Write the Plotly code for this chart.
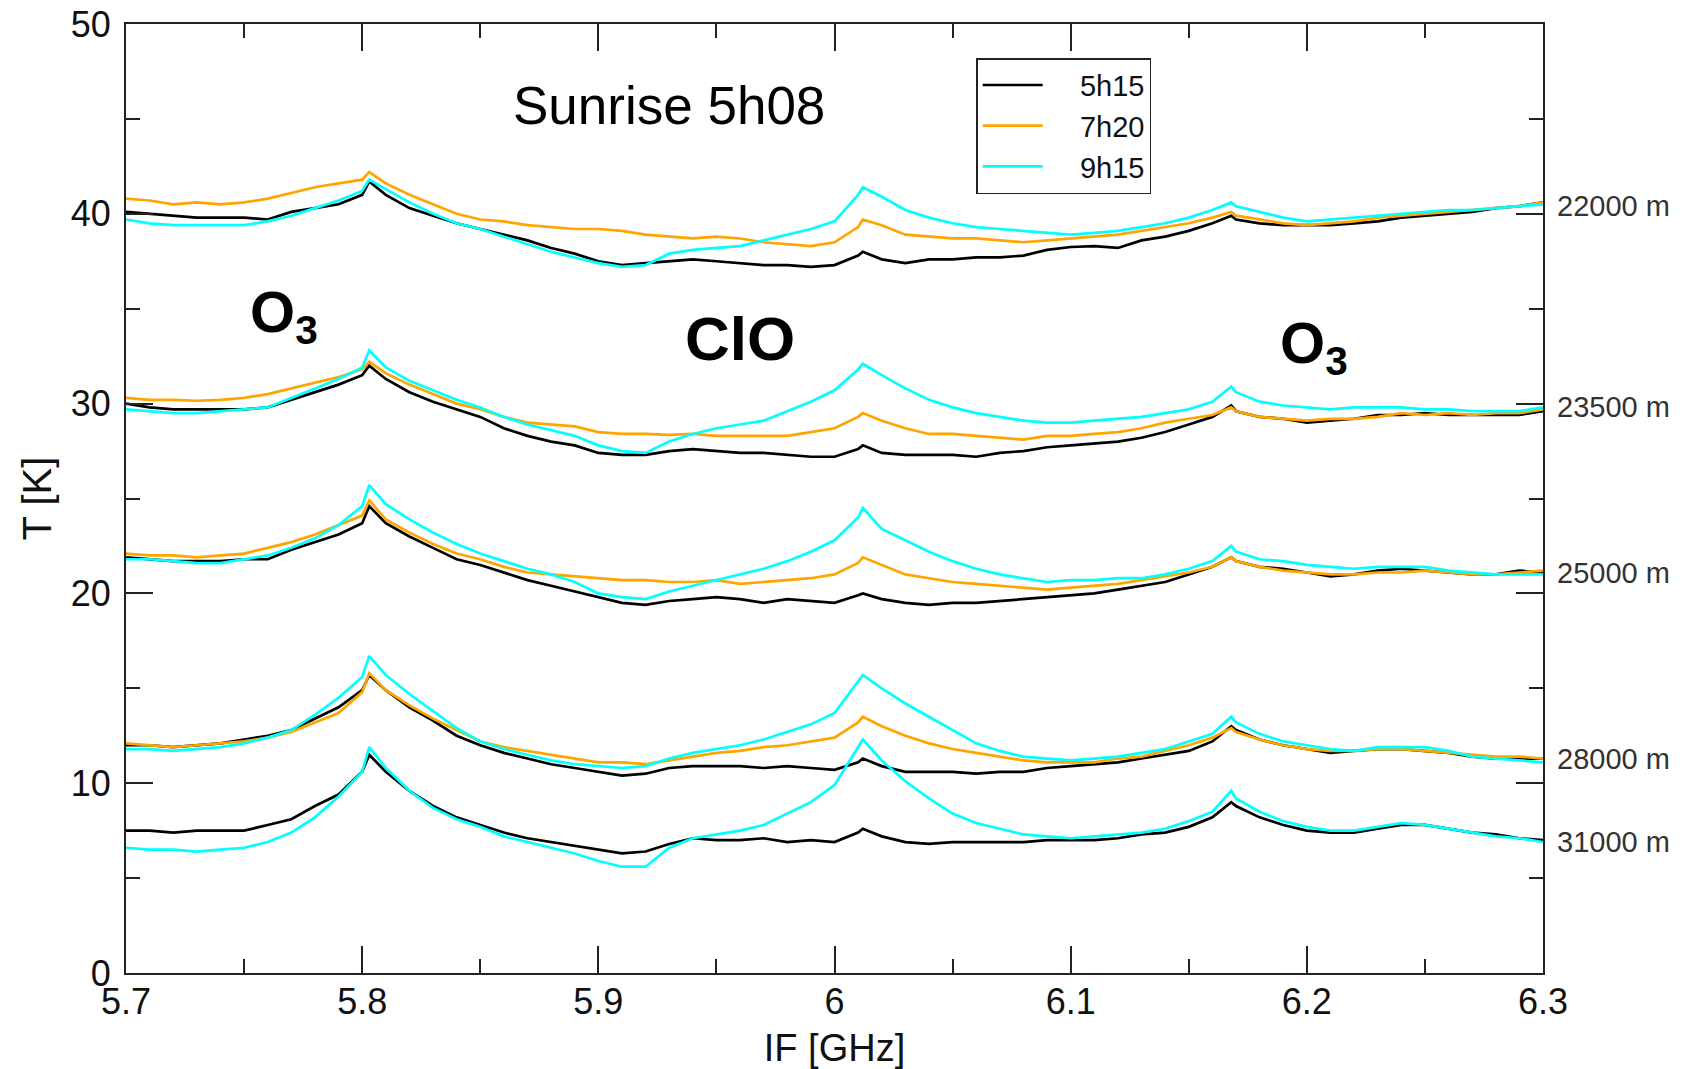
import plotly.graph_objects as go

# ---------------- data ----------------
freq_ghz = [5.70, 5.71, 5.72, 5.73, 5.74, 5.75, 5.76, 5.77, 5.78, 5.79, 5.80, 5.803,
            5.81, 5.82, 5.83, 5.84, 5.85, 5.86, 5.87, 5.88, 5.89, 5.90,
            5.91, 5.92, 5.93, 5.94, 5.95, 5.96, 5.97, 5.98, 5.99, 6.00,
            6.01, 6.012,
            6.02, 6.03, 6.04, 6.05, 6.06, 6.07, 6.08, 6.09, 6.10,
            6.11, 6.12, 6.13, 6.14, 6.15, 6.16,
            6.168,
            6.17, 6.18, 6.19, 6.20, 6.21, 6.22, 6.23, 6.24, 6.25, 6.26, 6.27, 6.28, 6.29, 6.30]

# 22000 m
t22000_5h15 = [40.1, 40.0, 39.9, 39.8, 39.8, 39.8, 39.7, 40.1, 40.3, 40.5, 41.0, 41.7,
               41.0, 40.3, 39.9, 39.5, 39.2, 38.9, 38.6, 38.2, 37.9, 37.5,
               37.3, 37.4, 37.5, 37.6, 37.5, 37.4, 37.3, 37.3, 37.2, 37.3,
               37.8, 38.0,
               37.6, 37.4, 37.6, 37.6, 37.7, 37.7, 37.8, 38.1, 38.25,
               38.3, 38.2, 38.6, 38.8, 39.1, 39.5,
               39.9,
               39.7, 39.5, 39.4, 39.4, 39.4, 39.5, 39.6, 39.8, 39.9, 40.0, 40.1, 40.3, 40.4, 40.6]
t22000_7h20 = [40.8, 40.7, 40.5, 40.6, 40.5, 40.6, 40.8, 41.1, 41.4, 41.6, 41.8, 42.2,
               41.6, 41.0, 40.5, 40.0, 39.7, 39.6, 39.4, 39.3, 39.2, 39.2,
               39.1, 38.9, 38.8, 38.7, 38.8, 38.7, 38.5, 38.4, 38.3, 38.5,
               39.3, 39.7,
               39.4, 38.9, 38.8, 38.7, 38.7, 38.6, 38.5, 38.6, 38.7,
               38.8, 38.9, 39.1, 39.3, 39.5, 39.8,
               40.1,
               39.9, 39.7, 39.5, 39.4, 39.5, 39.6, 39.8, 39.9, 40.0, 40.1, 40.2, 40.3, 40.4, 40.6]
t22000_9h15 = [39.7, 39.5, 39.4, 39.4, 39.4, 39.4, 39.6, 39.9, 40.3, 40.7, 41.2, 41.8,
               41.3, 40.6, 40.0, 39.5, 39.2, 38.8, 38.4, 38.0, 37.7, 37.4,
               37.2, 37.3, 37.9, 38.1, 38.2, 38.3, 38.6, 38.9, 39.2, 39.6,
               41.0, 41.4,
               40.9, 40.2, 39.8, 39.5, 39.3, 39.2, 39.1, 39.0, 38.9,
               39.0, 39.1, 39.3, 39.5, 39.8, 40.2,
               40.6,
               40.4, 40.1, 39.8, 39.6, 39.7, 39.8, 39.9, 40.0, 40.1, 40.2, 40.2, 40.3, 40.4, 40.5]

# 23500 m
t23500_5h15 = [30.0, 29.8, 29.7, 29.7, 29.7, 29.7, 29.8, 30.2, 30.6, 31.0, 31.5, 32.0,
               31.3, 30.6, 30.1, 29.7, 29.3, 28.7, 28.3, 28.0, 27.8, 27.4,
               27.3, 27.3, 27.5, 27.6, 27.5, 27.4, 27.4, 27.3, 27.2, 27.2,
               27.6, 27.8,
               27.4, 27.3, 27.3, 27.3, 27.2, 27.4, 27.5, 27.7, 27.8,
               27.9, 28.0, 28.2, 28.5, 28.9, 29.3,
               29.9,
               29.6, 29.3, 29.2, 29.0, 29.1, 29.2, 29.4, 29.4, 29.5, 29.4, 29.4, 29.4, 29.4, 29.6]
t23500_7h20 = [30.3, 30.2, 30.2, 30.15, 30.2, 30.3, 30.5, 30.8, 31.1, 31.4, 31.8, 32.2,
               31.6, 31.0, 30.5, 30.0, 29.7, 29.3, 29.0, 28.9, 28.8, 28.5,
               28.4, 28.4, 28.35, 28.4, 28.3, 28.3, 28.3, 28.3, 28.5, 28.7,
               29.3, 29.5,
               29.1, 28.7, 28.4, 28.4, 28.3, 28.2, 28.1, 28.3, 28.3,
               28.4, 28.5, 28.7, 29.0, 29.2, 29.4,
               29.8,
               29.6, 29.3, 29.2, 29.1, 29.2, 29.2, 29.3, 29.5, 29.4, 29.5, 29.4, 29.5, 29.5, 29.7]
t23500_9h15 = [29.7, 29.6, 29.5, 29.5, 29.6, 29.7, 29.8, 30.3, 30.8, 31.3, 31.9, 32.8,
               31.9, 31.2, 30.7, 30.2, 29.8, 29.3, 28.9, 28.6, 28.3, 27.8,
               27.5, 27.4, 28.0, 28.4, 28.7, 28.9, 29.1, 29.6, 30.1, 30.7,
               31.8, 32.1,
               31.5, 30.8, 30.2, 29.8, 29.5, 29.3, 29.1, 29.0, 29.0,
               29.1, 29.2, 29.3, 29.5, 29.7, 30.1,
               30.9,
               30.6, 30.1, 29.9, 29.8, 29.7, 29.8, 29.8, 29.8, 29.7, 29.7, 29.6, 29.6, 29.6, 29.8]

# 25000 m
t25000_5h15 = [21.9, 21.8, 21.7, 21.7, 21.7, 21.8, 21.8, 22.3, 22.7, 23.1, 23.7, 24.6,
               23.7, 23.0, 22.4, 21.8, 21.5, 21.1, 20.7, 20.4, 20.1, 19.8,
               19.5, 19.4, 19.6, 19.7, 19.8, 19.7, 19.5, 19.7, 19.6, 19.5,
               19.9, 20.0,
               19.7, 19.5, 19.4, 19.5, 19.5, 19.6, 19.7, 19.8, 19.9,
               20.0, 20.2, 20.4, 20.6, 21.0, 21.4,
               21.9,
               21.7, 21.4, 21.3, 21.1, 20.9, 21.0, 21.2, 21.3, 21.2, 21.1, 21.0, 21.0, 21.2, 21.1]
t25000_7h20 = [22.1, 22.0, 22.0, 21.9, 22.0, 22.1, 22.4, 22.7, 23.1, 23.6, 24.1, 24.9,
               23.9, 23.2, 22.6, 22.1, 21.8, 21.4, 21.1, 21.0, 20.9, 20.8,
               20.7, 20.7, 20.6, 20.6, 20.7, 20.5, 20.6, 20.7, 20.8, 21.0,
               21.6, 21.9,
               21.5, 21.0, 20.8, 20.6, 20.5, 20.4, 20.3, 20.2, 20.3,
               20.4, 20.5, 20.7, 20.9, 21.1, 21.4,
               21.9,
               21.7, 21.4, 21.2, 21.1, 21.0, 21.0, 21.1, 21.1, 21.2, 21.1, 21.0, 21.0, 21.1, 21.2]
t25000_9h15 = [21.8, 21.8, 21.7, 21.6, 21.6, 21.8, 22.0, 22.4, 22.9, 23.6, 24.6, 25.7,
               24.7, 23.9, 23.2, 22.6, 22.1, 21.7, 21.3, 21.0, 20.6, 20.0,
               19.8, 19.7, 20.1, 20.4, 20.7, 21.0, 21.3, 21.7, 22.2, 22.8,
               24.0, 24.5,
               23.4, 22.8, 22.2, 21.7, 21.3, 21.0, 20.8, 20.6, 20.7,
               20.7, 20.8, 20.8, 21.0, 21.3, 21.7,
               22.5,
               22.2, 21.8, 21.7, 21.5, 21.4, 21.3, 21.4, 21.4, 21.4, 21.2, 21.1, 21.0, 21.0, 21.0]

# 28000 m
t28000_5h15 = [12.0, 12.0, 11.9, 12.0, 12.1, 12.3, 12.5, 12.8, 13.4, 14.0, 14.9, 15.7,
               14.9, 14.0, 13.3, 12.5, 12.0, 11.6, 11.3, 11.0, 10.8, 10.6,
               10.4, 10.5, 10.8, 10.9, 10.9, 10.9, 10.8, 10.9, 10.8, 10.7,
               11.1, 11.3,
               10.9, 10.6, 10.6, 10.6, 10.5, 10.6, 10.6, 10.8, 10.9,
               11.0, 11.1, 11.3, 11.5, 11.7, 12.2,
               13.0,
               12.8, 12.3, 12.0, 11.8, 11.6, 11.7, 11.8, 11.8, 11.7, 11.6, 11.4, 11.3, 11.3, 11.3]
t28000_7h20 = [12.1, 12.0, 11.9, 12.0, 12.1, 12.2, 12.4, 12.7, 13.2, 13.7, 14.8, 15.8,
               14.9, 14.1, 13.4, 12.8, 12.2, 11.9, 11.7, 11.5, 11.3, 11.1,
               11.1, 11.0, 11.2, 11.4, 11.6, 11.7, 11.9, 12.0, 12.2, 12.4,
               13.2, 13.5,
               13.0, 12.5, 12.1, 11.8, 11.6, 11.4, 11.2, 11.1, 11.1,
               11.1, 11.3, 11.4, 11.7, 12.0, 12.4,
               12.9,
               12.7, 12.3, 12.0, 11.8, 11.7, 11.7, 11.8, 11.8, 11.7, 11.6, 11.5, 11.4, 11.4, 11.3]
t28000_9h15 = [11.8, 11.8, 11.7, 11.8, 11.9, 12.1, 12.4, 12.8, 13.6, 14.5, 15.6, 16.7,
               15.7, 14.7, 13.8, 12.9, 12.2, 11.8, 11.5, 11.2, 11.0, 10.9,
               10.8, 10.9, 11.3, 11.6, 11.8, 12.0, 12.3, 12.7, 13.1, 13.7,
               15.4, 15.7,
               15.0, 14.2, 13.5, 12.8, 12.1, 11.7, 11.4, 11.3, 11.2,
               11.3, 11.4, 11.6, 11.8, 12.2, 12.6,
               13.5,
               13.2, 12.6, 12.2, 12.0, 11.8, 11.7, 11.9, 11.9, 11.9, 11.7, 11.4, 11.3, 11.2, 11.1]

# 31000 m (no 7h20 curve)
t31000_5h15 = [7.5, 7.5, 7.4, 7.5, 7.5, 7.5, 7.8, 8.1, 8.8, 9.4, 10.6, 11.5,
               10.6, 9.6, 8.8, 8.2, 7.8, 7.4, 7.1, 6.9, 6.7, 6.5,
               6.3, 6.4, 6.8, 7.1, 7.0, 7.0, 7.1, 6.9, 7.0, 6.9,
               7.4, 7.6,
               7.2, 6.9, 6.8, 6.9, 6.9, 6.9, 6.9, 7.0, 7.0,
               7.0, 7.1, 7.3, 7.4, 7.7, 8.2,
               9.0,
               8.8, 8.2, 7.8, 7.5, 7.4, 7.4, 7.6, 7.8, 7.8, 7.6, 7.4, 7.3, 7.1, 7.0]
t31000_9h15 = [6.6, 6.5, 6.5, 6.4, 6.5, 6.6, 6.9, 7.4, 8.2, 9.3, 10.6, 11.9,
               10.8, 9.6, 8.7, 8.1, 7.7, 7.2, 6.9, 6.6, 6.3, 5.9,
               5.6, 5.6, 6.6, 7.1, 7.3, 7.5, 7.8, 8.4, 9.0, 9.9,
               11.9, 12.3,
               11.2, 10.1, 9.2, 8.4, 7.9, 7.6, 7.3, 7.2, 7.1,
               7.2, 7.3, 7.4, 7.6, 8.0, 8.5,
               9.6,
               9.2, 8.5, 8.0, 7.7, 7.5, 7.5, 7.7, 7.9, 7.8, 7.6, 7.4, 7.2, 7.1, 6.9]

time_labels = ["5h15", "7h20", "9h15"]
altitude_labels = ["22000 m", "23500 m", "25000 m", "28000 m", "31000 m"]
altitude_label_y = [40.4, 29.8, 21.1, 11.3, 6.9]

x_tick_vals = [5.7, 5.8, 5.9, 6.0, 6.1, 6.2, 6.3]
x_tick_text = ["5.7", "5.8", "5.9", "6", "6.1", "6.2", "6.3"]
y_tick_vals = [0, 10, 20, 30, 40, 50]

species_labels = ["O<sub>3</sub>", "ClO", "O<sub>3</sub>"]
species_x = [5.767, 5.960, 6.203]
species_y = [34.6, 33.45, 33.0]
species_size = [58, 62, 58]

# ---------------- figure ----------------
colors = {"5h15": "#000000", "7h20": "#FFA500", "9h15": "#00FFFF"}
FONT = "Liberation Sans, Arial, Helvetica, sans-serif"
NBSP = "\u00a0"

series = [
    ("5h15", t22000_5h15), ("7h20", t22000_7h20), ("9h15", t22000_9h15),
    ("5h15", t23500_5h15), ("7h20", t23500_7h20), ("9h15", t23500_9h15),
    ("5h15", t25000_5h15), ("7h20", t25000_7h20), ("9h15", t25000_9h15),
    ("5h15", t28000_5h15), ("7h20", t28000_7h20), ("9h15", t28000_9h15),
    ("5h15", t31000_5h15), ("9h15", t31000_9h15),
]

fig = go.Figure()
shown = set()
for name, vals in series:
    fig.add_trace(go.Scatter(
        x=freq_ghz, y=vals, mode="lines", name=NBSP * 4 + name, legendgroup=name,
        showlegend=name not in shown,
        line=dict(color=colors[name], width=2.7),
    ))
    shown.add(name)

annotations = []
for lab, yv in zip(altitude_labels, altitude_label_y):
    annotations.append(dict(xref="paper", x=1.0, xanchor="left", xshift=12,
                            yref="y", y=yv, yanchor="middle", text=lab, showarrow=False,
                            font=dict(family=FONT, size=29, color="#333333")))
for lab, xv, yv, sz in zip(species_labels, species_x, species_y, species_size):
    annotations.append(dict(x=xv, y=yv, xref="x", yref="y", text="<b>" + lab + "</b>",
                            showarrow=False, font=dict(family=FONT, size=sz, color="#000000")))
annotations.append(dict(x=5.930, y=45.7, xref="x", yref="y", text="Sunrise 5h08",
                        showarrow=False, font=dict(family=FONT, size=53, color="#000000")))

axis_common = dict(
    showline=True, linecolor="#222222", linewidth=2, mirror="ticks",
    ticks="inside", tickcolor="#222222", tickwidth=1.5, ticklen=27,
    showgrid=False, zeroline=False, automargin=False,
    tickfont=dict(family=FONT, size=36, color="#111111"),
)

fig.update_layout(
    width=1686, height=1069,
    margin=dict(l=126, r=143, t=24, b=96),
    paper_bgcolor="white", plot_bgcolor="white",
    font=dict(family=FONT, color="#111111"),
    xaxis=dict(range=[5.7, 6.3], tickmode="array", tickvals=x_tick_vals, ticktext=x_tick_text,
               minor=dict(tickmode="linear", tick0=5.7, dtick=0.05, ticks="inside", ticklen=14,
                          tickwidth=1.5, tickcolor="#222222"),
               ticklabelstandoff=-4,
               title=dict(text="IF [GHz]", font=dict(family=FONT, size=38, color="#111111"), standoff=16),
               **axis_common),
    yaxis=dict(range=[0, 50], tickmode="array", tickvals=y_tick_vals,
               minor=dict(tickmode="linear", tick0=0, dtick=5, ticks="inside", ticklen=14,
                          tickwidth=1.5, tickcolor="#222222"),
               ticklabelstandoff=6,
               title=dict(text="T [K]", font=dict(family=FONT, size=40, color="#111111"), standoff=7),
               **axis_common),
    legend=dict(x=0.600, y=0.964, xanchor="left", yanchor="top",
                bgcolor="white", bordercolor="#222222", borderwidth=1.5,
                font=dict(family=FONT, size=29, color="#111111"),
                itemwidth=60, tracegroupgap=0),
    annotations=annotations,
    showlegend=True,
)

fig.write_html("out.html")
